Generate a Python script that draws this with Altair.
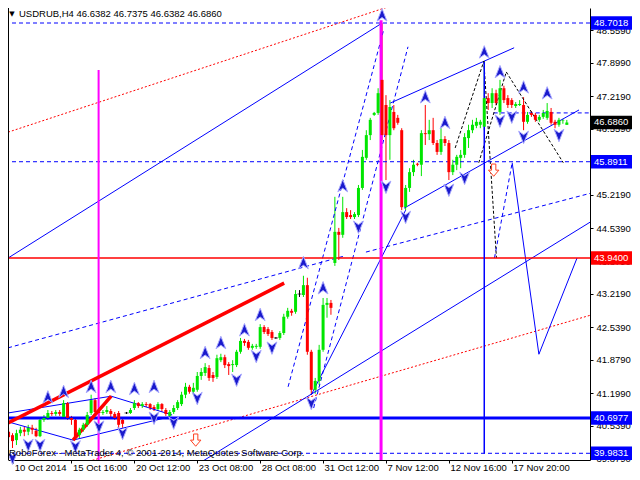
import altair as alt
import pandas as pd

# ---------------- candle data (USDRUB H4) ----------------
opens = [40.42,40.35,40.25,40.39,40.46,40.42,40.50,40.44,40.33,40.66,
         40.70,40.80,40.78,40.82,40.72,41.00,40.70,40.66,40.35,40.46,
         40.56,40.80,41.06,40.82,40.80,40.82,40.84,40.78,40.80,40.66,
         40.80,40.80,40.90,41.00,40.94,40.98,40.98,40.92,40.88,40.98,
         40.86,40.74,40.82,40.90,40.98,41.17,41.33,41.23,41.27,41.55,
         41.61,41.71,41.57,41.53,41.87,41.93,41.79,41.77,41.77,42.04,
         42.26,42.24,42.12,42.14,42.14,42.54,42.50,42.44,42.32,42.32,
         42.42,42.75,42.87,42.85,43.21,43.19,43.39,42.04,41.27,41.45,
         42.08,42.99,43.03,43.84,44.47,44.41,44.87,44.81,44.77,44.81,
         45.36,45.97,46.43,46.84,46.88,47.55,47.04,46.43,46.90,46.78,
         46.53,44.97,45.36,45.68,45.85,45.83,46.47,46.45,46.53,46.27,
         46.09,46.35,46.27,45.68,45.83,45.97,46.03,46.37,46.53,46.62,
         46.64,46.60,47.18,47.08,47.28,46.90,47.38,47.18,47.14,47.02,
         47.04,47.04,46.70,46.88,46.84,46.74,46.80,46.78,46.90,46.70,
         46.64,46.72,46.6382]
highs = [40.50,40.39,40.46,40.52,40.52,40.56,40.56,40.50,40.70,40.76,
         40.86,40.84,40.86,40.86,41.06,41.02,40.74,40.70,40.50,40.60,
         40.82,41.17,41.10,40.90,40.86,40.94,40.88,40.82,40.84,40.70,
         40.82,40.90,41.06,41.02,41.02,41.02,41.00,40.96,41.02,41.00,
         40.90,40.86,40.96,41.06,41.23,41.41,41.37,41.41,41.63,41.71,
         41.81,41.77,41.63,41.98,42.00,41.98,41.83,41.87,42.08,42.32,
         42.30,42.28,42.20,42.20,42.60,42.58,42.54,42.48,42.34,42.46,
         42.81,42.93,42.91,43.29,43.29,43.58,43.54,42.08,41.51,42.18,
         43.13,43.13,43.09,45.18,44.55,45.18,44.95,44.91,44.87,45.42,
         46.13,46.53,46.78,46.90,47.38,48.70,47.24,47.14,47.04,46.84,
         46.57,45.42,45.76,45.93,45.87,46.53,47.04,46.74,46.78,46.33,
         46.57,46.41,46.33,45.93,46.03,46.13,46.47,46.64,46.74,46.78,
         46.74,47.93,47.28,47.38,47.35,47.55,47.43,47.24,47.18,47.10,
         47.14,47.20,46.90,46.92,46.88,46.84,46.94,47.08,46.98,46.74,
         46.78,46.76,46.7375]
lows = [40.19,40.09,40.15,40.33,40.33,40.35,40.37,40.31,40.31,40.62,
        40.66,40.74,40.74,40.74,40.70,40.66,40.56,40.25,40.29,40.42,
        40.52,40.76,40.78,40.70,40.76,40.78,40.70,40.66,40.46,40.50,
        40.78,40.78,40.86,40.90,40.90,40.92,40.86,40.84,40.84,40.82,
        40.74,40.70,40.78,40.86,40.94,41.10,41.19,41.17,41.23,41.47,
        41.55,41.45,41.43,41.49,41.83,41.71,41.57,41.63,41.73,42.00,
        42.16,42.08,42.08,42.10,42.10,42.40,42.36,42.28,42.30,42.28,
        42.38,42.71,42.77,42.81,43.15,43.15,41.98,41.17,41.19,41.37,
        42.04,42.73,42.79,43.78,43.90,44.35,44.73,44.73,44.73,44.77,
        45.32,45.93,46.33,46.82,46.84,46.33,45.52,45.93,46.53,46.64,
        44.91,44.91,45.28,45.60,45.80,45.60,46.23,46.33,46.23,46.03,
        46.03,46.21,45.52,45.62,45.72,45.76,45.97,46.17,46.47,46.57,
        46.57,46.53,46.94,46.98,47.04,46.84,47.08,46.98,46.98,46.98,
        47.02,46.53,46.66,46.80,46.70,46.70,46.76,46.74,46.64,46.57,
        46.60,46.66,46.6382]
closes = [40.31,40.23,40.39,40.46,40.42,40.50,40.46,40.33,40.66,40.70,
          40.80,40.78,40.82,40.78,41.00,40.70,40.66,40.31,40.46,40.56,
          40.76,41.06,40.82,40.80,40.82,40.86,40.78,40.70,40.56,40.58,
          40.80,40.86,41.00,40.94,40.98,40.96,40.90,40.88,40.98,40.88,
          40.78,40.82,40.90,41.02,41.17,41.33,41.23,41.31,41.55,41.63,
          41.73,41.51,41.51,41.91,41.93,41.77,41.75,41.79,42.04,42.26,
          42.22,42.12,42.16,42.16,42.54,42.44,42.40,42.32,42.32,42.42,
          42.75,42.87,42.83,43.21,43.21,43.39,42.04,41.27,41.45,42.08,
          42.99,43.03,42.93,44.47,44.41,44.87,44.77,44.77,44.83,45.36,
          45.99,46.43,46.74,46.88,47.28,46.43,46.43,47.00,46.57,46.68,
          44.97,45.36,45.68,45.83,45.83,46.47,46.45,46.53,46.27,46.09,
          46.35,46.27,45.68,45.83,45.99,46.03,46.39,46.53,46.64,46.70,
          46.70,47.18,47.08,47.28,47.08,47.38,47.14,47.04,47.04,47.06,
          47.06,46.70,46.84,46.84,46.74,46.80,46.88,46.92,46.68,46.64,
          46.74,46.73,46.6860]

tick_bars = [1.2, 16, 32, 48, 64, 80, 96, 112, 128]
tick_labels = ["10 Oct 2014", "15 Oct 16:00", "20 Oct 12:00", "23 Oct 08:00",
               "28 Oct 08:00", "31 Oct 12:00", "7 Nov 12:00", "12 Nov 16:00",
               "17 Nov 20:00"]
price_ticks = [48.559, 47.899, 47.219, 46.559, 45.219, 44.539, 43.879,
               43.219, 42.539, 41.879, 41.199, 40.539, 39.879]

# horizontal levels
dashed_levels = [48.7018, 45.8911, 39.9831]
red_level = [43.94]
thick_blue_level = [40.6977]

# price boxes on the right scale
box_values = [48.7018, 46.6860, 45.8911, 43.9400, 40.6977, 39.9831]
box_colors = ["#0000ff", "#000000", "#0000ff", "#ff0000", "#0000ff", "#0000ff"]

# trend lines: (bar1, price1, bar2, price2)
red_dotted = [(-0.125, 46.49, 99.6, 49.11), (17.4, 39.75, 148.4, 42.79)]
blue_solid = [(-0.125, 43.94, 95.0, 48.70), (49.1, 39.81, 148.4, 44.69),
              (77.0, 41.17, 101.0, 44.91), (97.1, 47.08, 128.6, 48.20),
              (100.6, 44.95, 145.1, 46.94), (128.1, 45.87, 134.9, 41.99),
              (134.9, 41.99, 144.6, 43.94),
              (-0.125, 40.80, 26.1, 41.14), (26.1, 41.14, 41.6, 40.76),
              (-0.125, 40.62, 16.4, 40.25), (16.4, 40.25, 40.9, 40.72)]
blue_dashed = [(-0.125, 42.12, 85.4, 43.98), (90.9, 44.06, 148.4, 45.26),
               (71.1, 41.33, 95.4, 48.56), (77.6, 40.90, 101.6, 48.22),
               (123.6, 43.94, 128.1, 45.87), (123.4, 46.88, 148.4, 46.88)]
black_dashed = [(113.6, 46.17, 120.9, 47.93), (120.9, 47.93, 124.1, 43.94),
                (119.6, 45.87, 126.6, 47.71), (126.6, 47.71, 141.1, 45.87)]
red_thick = [(-0.125, 40.60, 70.1, 43.43), (16.4, 40.25, 26.1, 41.14)]

# vertical lines: (bar, top price, bottom price)
magenta_thin = [(22.9, 47.75, 39.5)]
magenta_thick = [(94.75, 48.76, 39.5)]
blue_vertical = [(121.0, 47.91, 39.98)]

# fractal arrows
up_bars = [10, 14, 21, 26, 32, 37, 50, 54, 60, 64, 75, 80, 85, 95, 106, 111, 121, 125, 131, 137]
up_prices = [41.12, 41.23, 41.33, 41.33, 41.29, 41.33, 42.02, 42.22, 42.48, 42.79, 43.84,
             43.33, 45.40, 48.86, 47.20, 46.68, 48.11, 47.71, 47.40, 47.28]
down_bars = [1, 5, 8, 17, 23, 29, 37, 42, 48, 58, 63, 67, 77, 89, 96, 101, 112, 116, 125, 128, 131, 140]
down_prices = [39.89, 40.15, 40.15, 40.12, 40.52, 40.39, 40.70, 40.60, 41.10, 41.47, 41.95,
               42.12, 41.00, 44.57, 45.38, 44.77, 45.32, 45.56, 46.72, 46.80, 46.39, 46.43]
signal_bars = [47.6, 123.4]
signal_prices = [40.25, 45.72]

title_text = "USDRUB,H4  46.6382 46.7375 46.6382 46.6860"
copyright_text = "RoboForex - MetaTrader 4, \u00a9 2001-2014, MetaQuotes Software Corp."

# ---------------- chart ----------------
W, H = 582, 452
FONT = "Liberation Sans"
GREEN, RED, BLUE = "#00e600", "#ff0000", "#0000ff"
XS = alt.Scale(domain=[1.125, 146.625], nice=False, zero=False)
YS = alt.Scale(domain=[39.847, 49.006], nice=False, zero=False)

label_js = "[" + ",".join("'%s'" % t for t in tick_labels) + "][round(datum.value/16)]"
x_axis = alt.Axis(values=tick_bars, labelExpr=label_js, labelAlign="left",
                  labelBaseline="alphabetic", labelPadding=7, tickSize=3, tickColor="#000",
                  domainColor="#000", labelColor="#000", labelFont=FONT,
                  labelFontSize=9.5, grid=False, title=None, labelFlush=False,
                  labelOverlap=False, labelOffset=1)
y_axis = alt.Axis(orient="right", values=price_ticks, format=".4f", tickSize=3,
                  tickColor="#000", domainColor="#000", labelColor="#000",
                  labelFont=FONT, labelFontSize=9.5, labelPadding=3, grid=False,
                  title=None, labelFlush=False, labelOverlap=False, zindex=0)

candles = pd.DataFrame({"bar": list(range(len(closes))), "open": opens,
                        "high": highs, "low": lows, "close": closes})
cbase = alt.Chart(candles).transform_calculate(
    dir="datum.close > datum.open ? 'up' : (datum.close < datum.open ? 'down' : 'doji')")
ccolor = alt.Color("dir:N", scale=alt.Scale(domain=["up", "down", "doji"],
                                            range=[GREEN, RED, "#000000"]), legend=None)
wicks = cbase.mark_rule(strokeWidth=1, clip=True).encode(
    x=alt.X("bar:Q", scale=XS, axis=x_axis),
    y=alt.Y("low:Q", scale=YS, axis=y_axis), y2="high:Q", color=ccolor)
bodies = cbase.mark_bar(size=3, clip=True).encode(
    x=alt.X("bar:Q", scale=XS, axis=None),
    y=alt.Y("open:Q", scale=YS, axis=None), y2="close:Q", color=ccolor)
dojis = cbase.transform_filter("datum.dir == 'doji'").mark_tick(
    orient="horizontal", size=4, thickness=1, color="#000").encode(
    x=alt.X("bar:Q", scale=XS, axis=None), y=alt.Y("close:Q", scale=YS, axis=None))


def seg_layer(segs, **style):
    df = pd.DataFrame(segs, columns=["b1", "p1", "b2", "p2"])
    return alt.Chart(df).mark_rule(clip=True, **style).encode(
        x=alt.X("b1:Q", scale=XS, axis=None), y=alt.Y("p1:Q", scale=YS, axis=None),
        x2="b2:Q", y2="p2:Q")


def hlevel(vals, **style):
    df = pd.DataFrame({"p": vals})
    return alt.Chart(df).mark_rule(**style).encode(y=alt.Y("p:Q", scale=YS, axis=None))


def vline(items, **style):
    df = pd.DataFrame(items, columns=["b", "top", "bot"])
    return alt.Chart(df).mark_rule(clip=True, **style).encode(
        x=alt.X("b:Q", scale=XS, axis=None), y=alt.Y("top:Q", scale=YS, axis=None),
        y2="bot:Q")


UP_SHAPE = "M0,-1 L0.75,0.9 L0,0.35 L-0.75,0.9 Z"
DOWN_SHAPE = "M0,1 L0.75,-0.9 L0,-0.35 L-0.75,-0.9 Z"
SIG_SHAPE = "M-0.35,-1 L0.35,-1 L0.35,0 L0.85,0 L0,1 L-0.85,0 L-0.35,0 Z"


def arrows(bars, prices, shape, fill, stroke, size):
    df = pd.DataFrame({"b": bars, "p": prices})
    return alt.Chart(df).mark_point(shape=shape, filled=True, fill=fill, stroke=stroke,
                                    strokeWidth=1, size=size, opacity=1).encode(
        x=alt.X("b:Q", scale=XS, axis=None), y=alt.Y("p:Q", scale=YS, axis=None))


boxes_df = pd.DataFrame({"value": box_values, "col": box_colors})
boxes = alt.Chart(boxes_df).transform_calculate(
    top="datum.value + 0.135", bot="datum.value - 0.135").mark_rect().encode(
    x=alt.value(583), x2=alt.value(624),
    y=alt.Y("top:Q", scale=YS, axis=None), y2="bot:Q",
    color=alt.Color("col:N", scale=None))
box_text = alt.Chart(boxes_df).mark_text(
    align="left", baseline="middle", font=FONT, fontSize=9.5, color="white").encode(
    x=alt.value(586), y=alt.Y("value:Q", scale=YS, axis=None),
    text=alt.Text("value:Q", format=".4f"))

one = pd.DataFrame({"t": [title_text]})
title_mark = alt.Chart(one).mark_text(
    align="left", baseline="middle", font=FONT, fontSize=9.5, color="#000").encode(
    x=alt.value(11), y=alt.value(5.5), text="t:N")
tri_mark = alt.Chart(pd.DataFrame({"t": ["\u25bc"]})).mark_text(
    align="center", baseline="middle", font="DejaVu Sans", fontSize=7, color="#000").encode(
    x=alt.value(4), y=alt.value(5.5), text="t:N")
copy_mark = alt.Chart(pd.DataFrame({"t": [copyright_text]})).mark_text(
    align="left", baseline="middle", font=FONT, fontSize=9.5, color="#000").encode(
    x=alt.value(1), y=alt.value(445), text="t:N")
left_border = alt.Chart(pd.DataFrame({"a": [0]})).mark_rule(color="#000").encode(
    x=alt.value(0.5), y=alt.value(0), y2=alt.value(H))

chart = alt.layer(
    wicks,
    seg_layer(red_dotted, color=RED, strokeDash=[2, 2], strokeWidth=1),
    seg_layer(blue_dashed, color=BLUE, strokeDash=[4, 3], strokeWidth=1),
    seg_layer(blue_solid, color=BLUE, strokeWidth=1),
    seg_layer(black_dashed, color="#000", strokeDash=[3, 2], strokeWidth=1),
    hlevel(dashed_levels, color=BLUE, strokeDash=[4, 3], strokeWidth=1),
    hlevel(red_level, color=RED, strokeWidth=1.5),
    hlevel(thick_blue_level, color=BLUE, strokeWidth=3),
    vline(magenta_thin, color="#ff00ff", strokeWidth=2),
    vline(magenta_thick, color="#ff00ff", strokeWidth=3),
    vline(blue_vertical, color=BLUE, strokeWidth=1.5),
    seg_layer(red_thick, color=RED, strokeWidth=3.5),
    bodies,
    dojis,
    arrows(up_bars, up_prices, UP_SHAPE, "#1a1acc", "#a8a8ff", 170),
    arrows(down_bars, down_prices, DOWN_SHAPE, "#1a1acc", "#a8a8ff", 170),
    arrows(signal_bars, signal_prices, SIG_SHAPE, "#ffffff", "#ff4020", 150),
    title_mark, tri_mark, copy_mark, left_border,
    boxes, box_text,
).resolve_axis(
    x="independent", y="independent"
).properties(
    width=W, height=H, autosize="none",
    padding={"left": 0, "top": 0, "right": 42, "bottom": 11},
    background="white",
).configure_view(stroke=None)

chart.save("out.html", embed_options={"renderer": "svg", "actions": False})
